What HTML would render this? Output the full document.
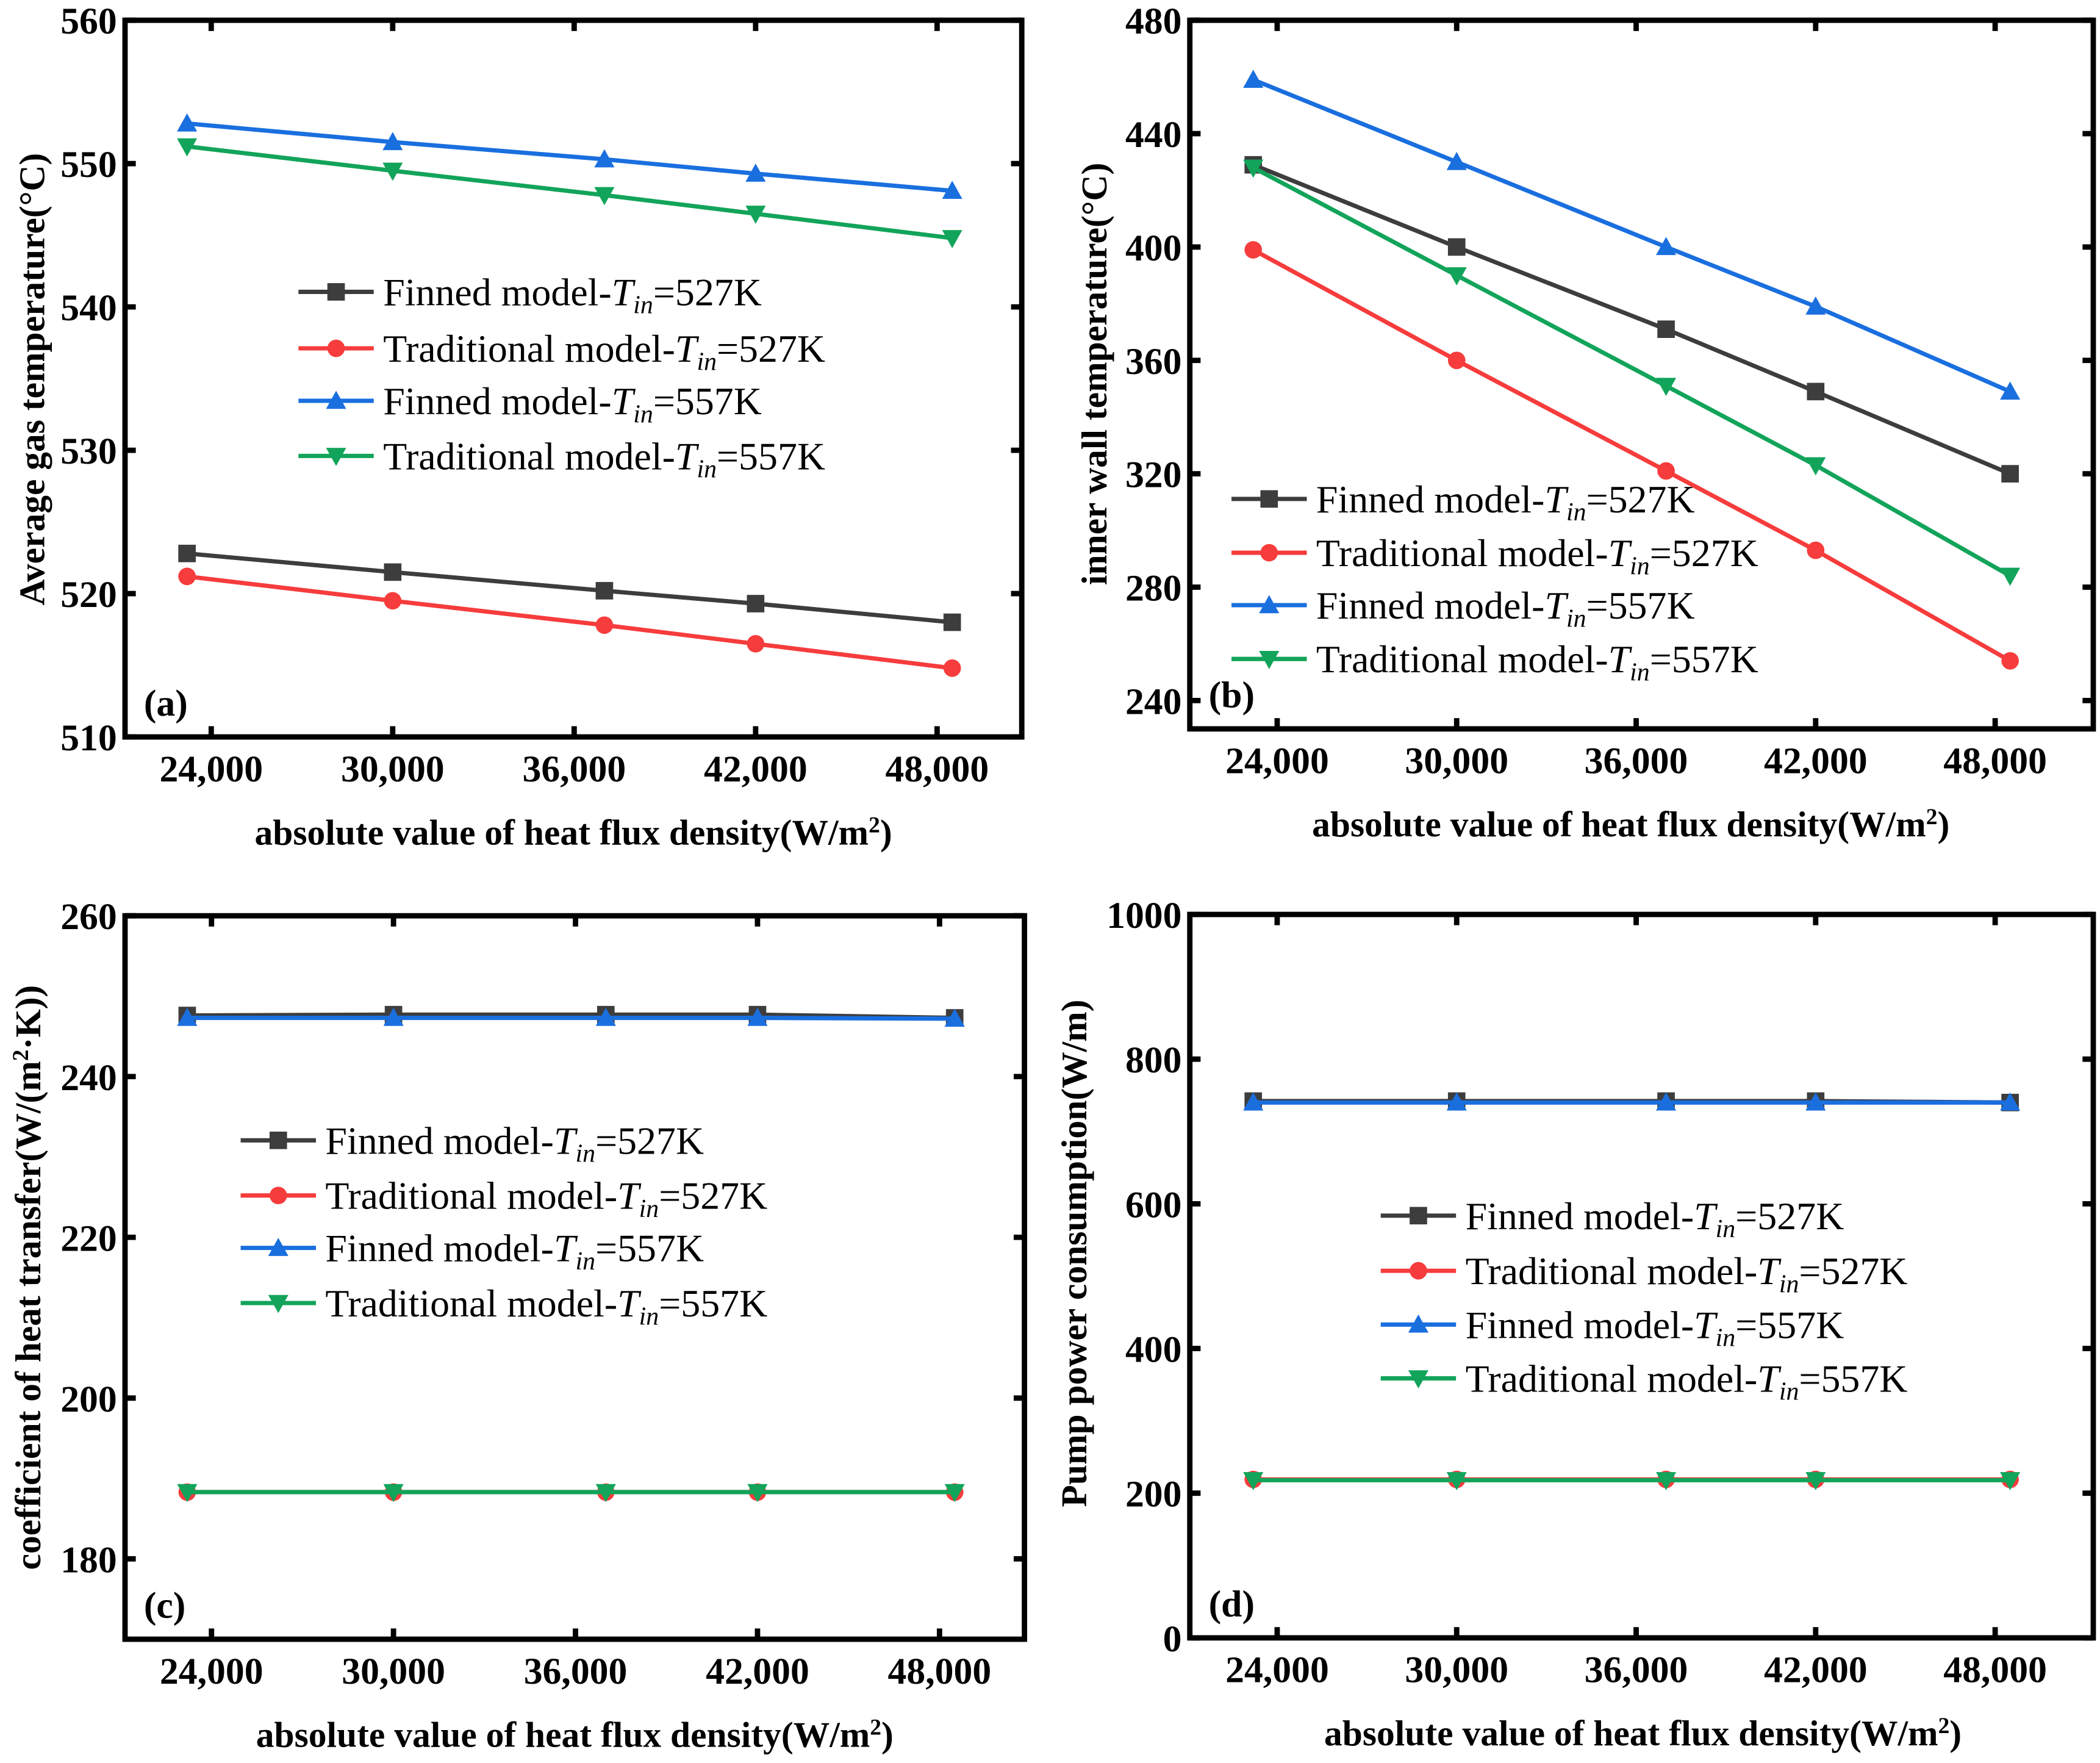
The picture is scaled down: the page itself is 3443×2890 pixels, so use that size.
<!DOCTYPE html>
<html><head><meta charset="utf-8"><style>
html,body{margin:0;padding:0;background:#fff;}
svg{display:block;}
svg text{font-family:"Liberation Serif","DejaVu Serif",serif;}
</style></head><body>
<svg id="fig" xmlns="http://www.w3.org/2000/svg" width="3443" height="2890" viewBox="0 0 1562 1311" font-family="Liberation Serif, serif"></svg>
<script>
// ---- data ----
const xValues = [23200, 30000, 37000, 42000, 48500];
const xTicks = [24000, 30000, 36000, 42000, 48000];
const xTickLabels = ["24,000", "30,000", "36,000", "42,000", "48,000"];
const seriesNames = ["Finned model-", "Traditional model-", "Finned model-", "Traditional model-"];
const seriesTemps = ["527K", "527K", "557K", "557K"];

const aFinned527 = [522.8, 521.5, 520.2, 519.3, 518.0];
const aTrad527 = [521.2, 519.5, 517.8, 516.5, 514.8];
const aFinned557 = [552.8, 551.5, 550.3, 549.3, 548.1];
const aTrad557 = [551.2, 549.5, 547.8, 546.5, 544.8];
const aYTicks = [510, 520, 530, 540, 550, 560];

const bFinned527 = [429, 400, 371, 349, 320];
const bTrad527 = [399, 360, 321, 293, 254];
const bFinned557 = [459, 430, 400, 379, 349];
const bTrad557 = [428, 390, 351, 323, 284];
const bYTicks = [240, 280, 320, 360, 400, 440, 480];

const cFinned527 = [247.6, 247.7, 247.7, 247.7, 247.3];
const cTrad527 = [188.3, 188.3, 188.3, 188.3, 188.3];
const cFinned557 = [247.3, 247.3, 247.3, 247.3, 247.2];
const cTrad557 = [188.3, 188.3, 188.3, 188.3, 188.3];
const cYTicks = [180, 200, 220, 240, 260];

const dFinned527 = [742, 742, 742, 742, 740];
const dTrad527 = [219, 219, 219, 219, 219];
const dFinned557 = [740, 740, 740, 740, 740];
const dTrad557 = [218, 218, 218, 218, 218];
const dYTicks = [0, 200, 400, 600, 800, 1000];

const NS = "http://www.w3.org/2000/svg";
const svg = document.getElementById("fig");
const colors = ["#3d3d3d", "#f63c3c", "#1a6fdf", "#12a45a"];
const markers = ["square", "circle", "up", "down"];

function mk(tag, attrs, parent) {
  const e = document.createElementNS(NS, tag);
  for (const k in attrs) e.setAttribute(k, attrs[k]);
  (parent || svg).appendChild(e);
  return e;
}
function marker(type, x, y, color, g) {
  let e;
  const s = 6.5;
  if (type === "square") e = mk("rect", {x: x - s, y: y - s, width: 2 * s, height: 2 * s, fill: color}, g);
  else if (type === "circle") e = mk("circle", {cx: x, cy: y, r: s, fill: color}, g);
  else if (type === "up") e = mk("polygon", {points: `${x},${y - 7.5} ${x - 7.5},${y + 6} ${x + 7.5},${y + 6}`, fill: color}, g);
  else e = mk("polygon", {points: `${x},${y + 7.5} ${x - 7.5},${y - 6} ${x + 7.5},${y - 6}`, fill: color}, g);
  
  
}

function panel(p) {
  const g = mk("g", {});
  
  
  const X = v => p.L + (v - p.xmin) / (p.xmax - p.xmin) * (p.R - p.L);
  const Y = v => p.B - (v - p.ymin) / (p.ymax - p.ymin) * (p.B - p.T);
  p.series.forEach((vals, si) => {
    const pts = vals.map((v, i) => X(xValues[i]) + "," + Y(v)).join(" ");
    const pl = mk("polyline", {points: pts, fill: "none", stroke: colors[si], "stroke-width": 3.2}, g);
    
    
    vals.forEach((v, i) => marker(markers[si], X(xValues[i]), Y(v), colors[si], g));
  });
  const fr = mk("rect", {x: p.L, y: p.T, width: p.R - p.L, height: p.B - p.T, fill: "none", stroke: "#000", "stroke-width": 4}, g);
  
  
  xTicks.forEach((t, i) => {
    const x = X(t);
    mk("line", {x1: x, y1: p.B, x2: x, y2: p.B - 8, stroke: "#000", "stroke-width": 4}, g);
    mk("line", {x1: x, y1: p.T, x2: x, y2: p.T + 8, stroke: "#000", "stroke-width": 4}, g);
    const tx = mk("text", {x: x, y: p.B + 33, "font-size": 28, "font-weight": "bold", "text-anchor": "middle"}, g);
    tx.textContent = xTickLabels[i];
    
    
  });
  p.yTicks.forEach(t => {
    const y = Y(t);
    mk("line", {x1: p.L, y1: y, x2: p.L + 8, y2: y, stroke: "#000", "stroke-width": 4}, g);
    mk("line", {x1: p.R, y1: y, x2: p.R - 8, y2: y, stroke: "#000", "stroke-width": 4}, g);
    const ty = mk("text", {x: p.L - 6, y: y + 10, "font-size": 28, "font-weight": "bold", "text-anchor": "end"}, g);
    ty.textContent = t;
    
    
  });
  const xt = mk("text", {x: (p.L + p.R) / 2 + p.xtOff, y: p.B + 80, "font-size": 27, "font-weight": "bold", "text-anchor": "middle"}, g);
  xt.innerHTML = 'absolute value of heat flux density(W/m<tspan baseline-shift="super" font-size="17">2</tspan>)';
  
  
  const yt = mk("text", {x: 0, y: 0, "font-size": 27, "font-weight": "bold", "text-anchor": "middle", transform: `translate(${p.ytx},${p.yty}) rotate(-90)`}, g);
  yt.innerHTML = p.ytitle;
  
  
  const pl = mk("text", {x: p.L + 14, y: p.B - 16, "font-size": 28, "font-weight": "bold"}, g);
  pl.textContent = "(" + p.id + ")";
  
  
  p.legRows.forEach((ry, si) => {
    const lg = mk("g", {}, g);
    
    
    mk("line", {x1: p.legX, y1: ry, x2: p.legX + 56, y2: ry, stroke: colors[si], "stroke-width": 3.2}, lg);
    marker(markers[si], p.legX + 28, ry, colors[si], lg);
    const t = mk("text", {x: p.legX + 63, y: ry + 10, "font-size": 29}, lg);
    t.innerHTML = seriesNames[si] + '<tspan font-style="italic">T</tspan><tspan font-style="italic" font-size="19" dy="6">in</tspan><tspan dy="-6">=' + seriesTemps[si] + '</tspan>';
  });
}

panel({id: "a", L: 93, R: 760, T: 15, B: 548, xmin: 21150, xmax: 50800, ymin: 510, ymax: 560,
  yTicks: aYTicks, series: [aFinned527, aTrad527, aFinned557, aTrad557],
  ytitle: "Average gas temperature(°C)", ytx: 33, yty: 282, xtOff: 0,
  legX: 222, legRows: [217, 259, 298, 339]});
panel({id: "b", L: 885, R: 1557, T: 15, B: 542, xmin: 21080, xmax: 51280, ymin: 230, ymax: 480,
  yTicks: bYTicks, series: [bFinned527, bTrad527, bFinned557, bTrad557],
  ytitle: "inner wall temperature(°C)", ytx: 823, yty: 278, xtOff: -8,
  legX: 916, legRows: [371, 411, 450, 490]});
panel({id: "c", L: 93, R: 762, T: 681, B: 1219, xmin: 21150, xmax: 50800, ymin: 170, ymax: 260,
  yTicks: cYTicks, series: [cFinned527, cTrad527, cFinned557, cTrad557],
  ytitle: 'coefficient of heat transfer(W/(m<tspan baseline-shift="super" font-size="17">2</tspan>·K))', ytx: 30, yty: 950, xtOff: 0,
  legX: 179, legRows: [848, 889, 928, 969]});
panel({id: "d", L: 885, R: 1557, T: 680, B: 1218, xmin: 21080, xmax: 51280, ymin: 0, ymax: 1000,
  yTicks: dYTicks, series: [dFinned527, dTrad527, dFinned557, dTrad557],
  ytitle: "Pump power consumption(W/m)", ytx: 808, yty: 932, xtOff: 1,
  legX: 1027, legRows: [904, 945, 985, 1025]});
</script>
</body></html>
